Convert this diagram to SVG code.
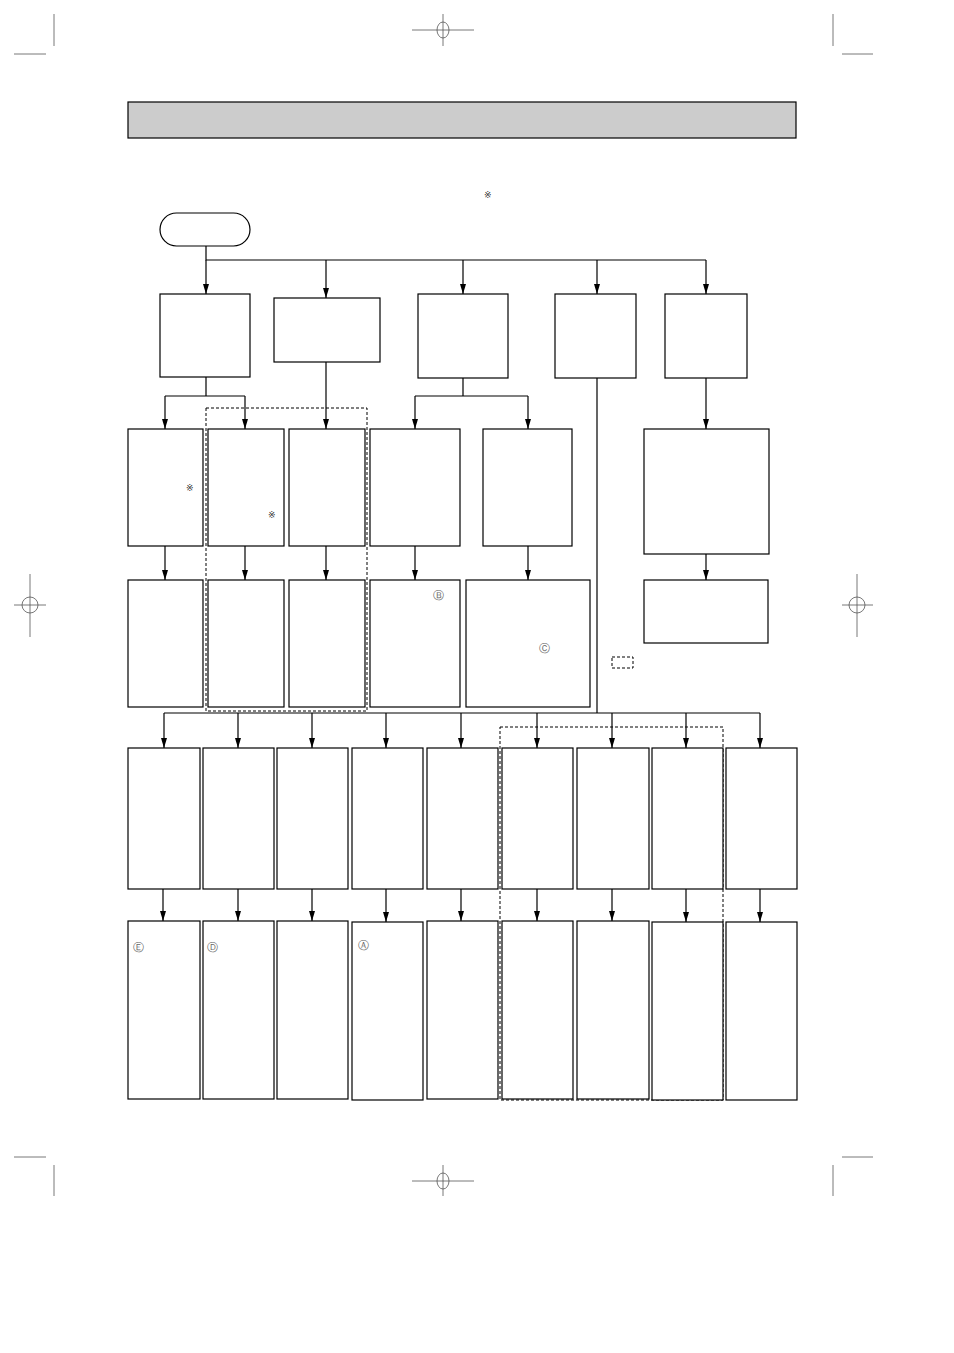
<svg xmlns="http://www.w3.org/2000/svg" width="954" height="1353" viewBox="0 0 954 1353">
<style>
.b{fill:#fff;stroke:#000;stroke-width:1.2}
.c{fill:none;stroke:#000;stroke-width:1.2}
.d{fill:none;stroke:#000;stroke-width:1;stroke-dasharray:3,2}
.m{fill:none;stroke:#555;stroke-width:0.8}
.s{font-family:"DejaVu Sans","Liberation Sans",sans-serif;font-size:9px;fill:#333}
.l{font-family:"DejaVu Sans","Liberation Sans",sans-serif;font-size:11px;fill:#666}
</style>
<defs>
<marker id="a" markerWidth="10" markerHeight="6" refX="10" refY="3" orient="auto" markerUnits="userSpaceOnUse" viewBox="0 0 10 6">
<path d="M0,0 L10,3 L0,6 Z" fill="#000"/>
</marker>
</defs>
<rect width="954" height="1353" fill="#fff"/>
<g id="cropmarks">
<path class="m" d="M54,14V46M14,54H46M833,14V46M842,54H873M54,1165V1196M14,1157H46M833,1165V1196M842,1157H873"/>
<path class="m" d="M412,30H474M443,14V46M412,1181H474M443,1165V1196M14,605H46M30,574V637M842,605H873M857,574V637"/>
<ellipse class="m" cx="443" cy="30" rx="6" ry="8"/>
<ellipse class="m" cx="443" cy="1181" rx="6" ry="8"/>
<circle class="m" cx="30" cy="605" r="8"/>
<circle class="m" cx="857" cy="605" r="8"/>
</g>
<g id="header"><rect x="128" y="102" width="668" height="36" fill="#cccccc" stroke="#000" stroke-width="1.2"/></g>
<text class="s" x="484" y="198">※</text>
<g id="connectors">
<path class="c" d="M206,246V260H706"/>
<path class="c" d="M206,260V294" marker-end="url(#a)"/>
<path class="c" d="M326,260V298" marker-end="url(#a)"/>
<path class="c" d="M463,260V294" marker-end="url(#a)"/>
<path class="c" d="M597,260V294" marker-end="url(#a)"/>
<path class="c" d="M706,260V294" marker-end="url(#a)"/>
<path class="c" d="M206,377V396M165,396H245"/>
<path class="c" d="M165,396V429" marker-end="url(#a)"/>
<path class="c" d="M245,396V429" marker-end="url(#a)"/>
<path class="c" d="M326,362V429" marker-end="url(#a)"/>
<path class="c" d="M463,378V396M415,396H528"/>
<path class="c" d="M415,396V429" marker-end="url(#a)"/>
<path class="c" d="M528,396V429" marker-end="url(#a)"/>
<path class="c" d="M706,378V429" marker-end="url(#a)"/>
<path class="c" d="M165,546V580" marker-end="url(#a)"/>
<path class="c" d="M245,546V580" marker-end="url(#a)"/>
<path class="c" d="M326,546V580" marker-end="url(#a)"/>
<path class="c" d="M415,546V580" marker-end="url(#a)"/>
<path class="c" d="M528,546V580" marker-end="url(#a)"/>
<path class="c" d="M706,554V580" marker-end="url(#a)"/>
<path class="c" d="M597,378V713M164,713H760"/>
<path class="c" d="M164,713V748" marker-end="url(#a)"/>
<path class="c" d="M238,713V748" marker-end="url(#a)"/>
<path class="c" d="M312,713V748" marker-end="url(#a)"/>
<path class="c" d="M386,713V748" marker-end="url(#a)"/>
<path class="c" d="M461,713V748" marker-end="url(#a)"/>
<path class="c" d="M537,713V748" marker-end="url(#a)"/>
<path class="c" d="M612,713V748" marker-end="url(#a)"/>
<path class="c" d="M686,713V748" marker-end="url(#a)"/>
<path class="c" d="M760,713V748" marker-end="url(#a)"/>
<path class="c" d="M163,889V921" marker-end="url(#a)"/>
<path class="c" d="M238,889V921" marker-end="url(#a)"/>
<path class="c" d="M312,889V921" marker-end="url(#a)"/>
<path class="c" d="M386,889V922" marker-end="url(#a)"/>
<path class="c" d="M461,889V921" marker-end="url(#a)"/>
<path class="c" d="M537,889V921" marker-end="url(#a)"/>
<path class="c" d="M612,889V921" marker-end="url(#a)"/>
<path class="c" d="M686,889V922" marker-end="url(#a)"/>
<path class="c" d="M760,889V922" marker-end="url(#a)"/>
</g>
<g id="start"><rect class="b" x="160" y="213" width="90" height="33" rx="16.5"/></g>
<g id="n1a"><rect class="b" x="160" y="294" width="90" height="83"/></g>
<g id="n1b"><rect class="b" x="274" y="298" width="106" height="64"/></g>
<g id="n1c"><rect class="b" x="418" y="294" width="90" height="84"/></g>
<g id="n1d"><rect class="b" x="555" y="294" width="81" height="84"/></g>
<g id="n1e"><rect class="b" x="665" y="294" width="82" height="84"/></g>
<g id="n2a"><rect class="b" x="128" y="429" width="75" height="117"/><text class="s" x="186" y="491">※</text></g>
<g id="n2b"><rect class="b" x="208" y="429" width="76" height="117"/><text class="s" x="268" y="518">※</text></g>
<g id="n2c"><rect class="b" x="289" y="429" width="76" height="117"/></g>
<g id="n2d"><rect class="b" x="370" y="429" width="90" height="117"/></g>
<g id="n2e"><rect class="b" x="483" y="429" width="89" height="117"/></g>
<g id="n2f"><rect class="b" x="644" y="429" width="125" height="125"/></g>
<g id="n3a"><rect class="b" x="128" y="580" width="75" height="127"/></g>
<g id="n3b"><rect class="b" x="208" y="580" width="76" height="127"/></g>
<g id="n3c"><rect class="b" x="289" y="580" width="76" height="127"/></g>
<g id="n3d"><rect class="b" x="370" y="580" width="90" height="127"/><text class="l" x="433" y="599">Ⓑ</text></g>
<g id="n3e"><rect class="b" x="466" y="580" width="124" height="127"/><text class="l" x="539" y="652">Ⓒ</text></g>
<g id="n3f"><rect class="b" x="644" y="580" width="124" height="63"/></g>
<g id="groups">
<rect class="d" x="206" y="408" width="161" height="303"/>
<rect class="d" x="500" y="727" width="223" height="373"/>
<rect class="d" x="612" y="657" width="21" height="11"/>
</g>
<g id="n4">
<rect class="b" x="128" y="748" width="72" height="141"/>
<rect class="b" x="203" y="748" width="71" height="141"/>
<rect class="b" x="277" y="748" width="71" height="141"/>
<rect class="b" x="352" y="748" width="71" height="141"/>
<rect class="b" x="427" y="748" width="71" height="141"/>
<rect class="b" x="502" y="748" width="71" height="141"/>
<rect class="b" x="577" y="748" width="72" height="141"/>
<rect class="b" x="652" y="748" width="71" height="141"/>
<rect class="b" x="726" y="748" width="71" height="141"/>
</g>
<g id="n5a"><rect class="b" x="128" y="921" width="72" height="178"/><text class="l" x="133" y="951">Ⓔ</text></g>
<g id="n5b"><rect class="b" x="203" y="921" width="71" height="178"/><text class="l" x="207" y="951">Ⓓ</text></g>
<g id="n5c"><rect class="b" x="277" y="921" width="71" height="178"/></g>
<g id="n5d"><rect class="b" x="352" y="922" width="71" height="178"/><text class="l" x="358" y="949">Ⓐ</text></g>
<g id="n5e"><rect class="b" x="427" y="921" width="71" height="178"/></g>
<g id="n5f"><rect class="b" x="502" y="921" width="71" height="178"/></g>
<g id="n5g"><rect class="b" x="577" y="921" width="72" height="178"/></g>
<g id="n5h"><rect class="b" x="652" y="922" width="71" height="178"/></g>
<g id="n5i"><rect class="b" x="726" y="922" width="71" height="178"/></g>
</svg>
